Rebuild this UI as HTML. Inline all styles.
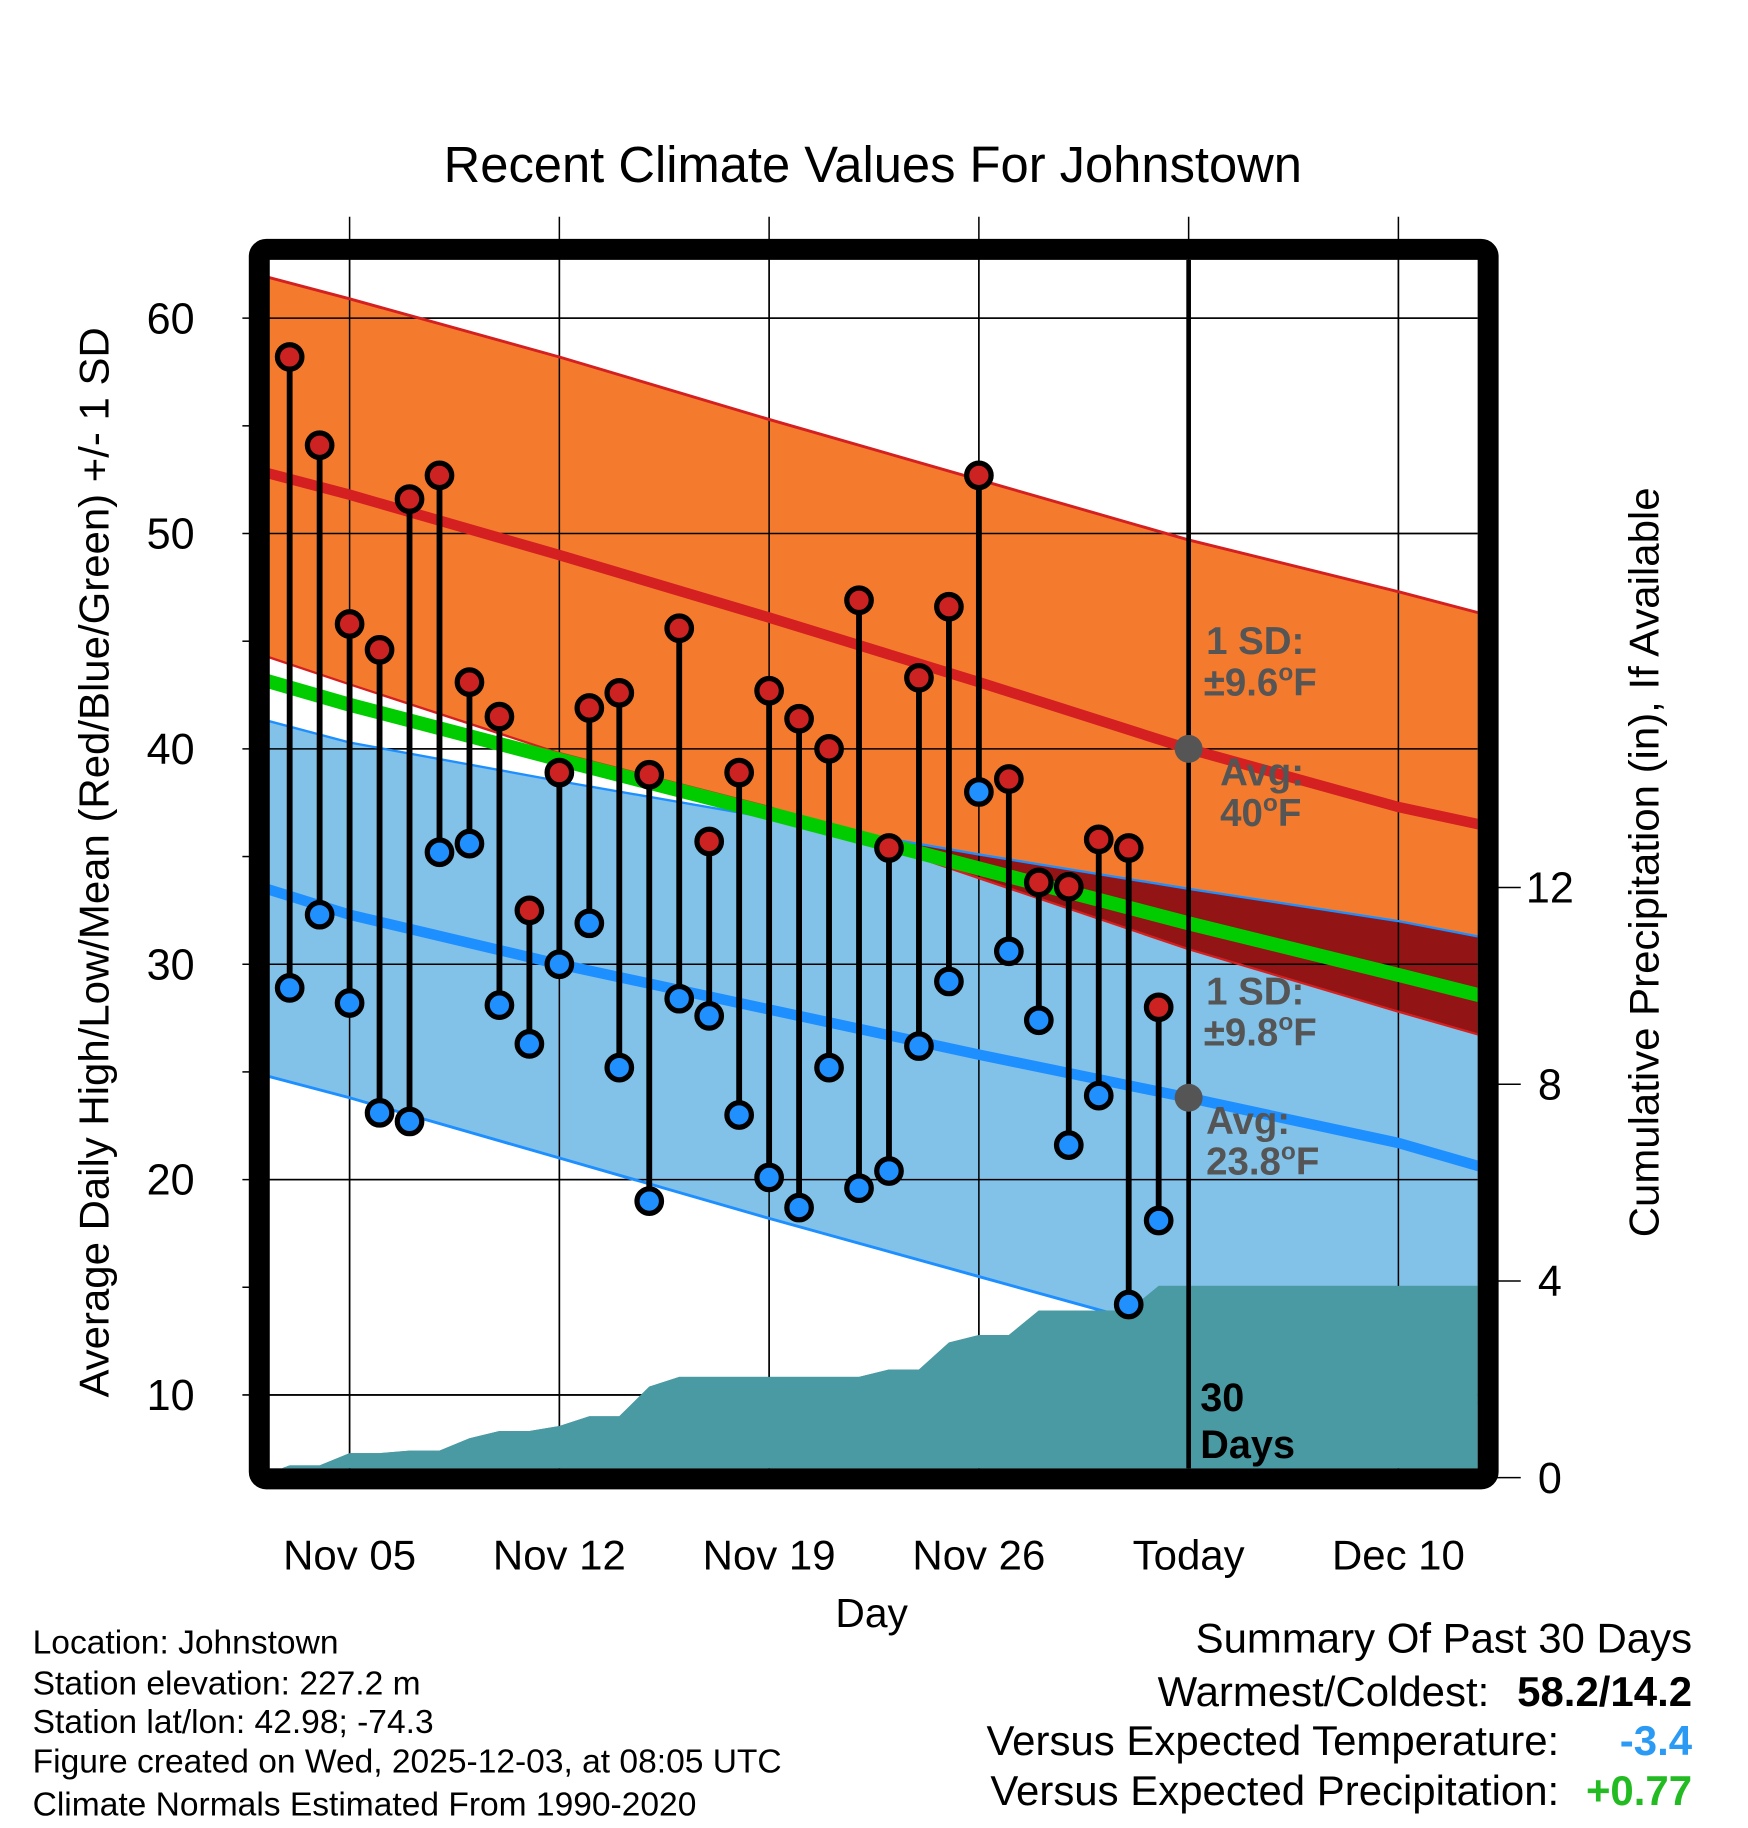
<!DOCTYPE html>
<html><head><meta charset="utf-8"><style>
html,body{margin:0;padding:0;background:#fff}
svg{display:block;font-family:"Liberation Sans",Arial,sans-serif}
</style></head><body>
<svg id="chart" width="1748" height="1828" viewBox="0 0 1500 1568.6" xmlns="http://www.w3.org/2000/svg">
<defs>
<clipPath id="plotClip"><rect x="231" y="223" width="1037" height="1037"/></clipPath>
<clipPath id="blueClip"><path id="blueClipPath" d=""/></clipPath>
</defs>
<rect width="1500" height="1568.6" fill="#fff"/>
<text x="749" y="156" font-size="43.5" text-anchor="middle">Recent Climate Values For Johnstown</text>
<g id="grid"></g>
<g id="plot" clip-path="url(#plotClip)"></g>
<g id="overlay"></g>
<rect x="222.5" y="214" width="1054.5" height="1055" rx="6" fill="none" stroke="#000" stroke-width="18"/>
<g id="axes"></g>
<text x="748" y="1396" font-size="35" text-anchor="middle">Day</text>
<text transform="translate(93,740) rotate(-90)" font-size="36" text-anchor="middle">Average Daily High/Low/Mean (Red/Blue/Green) +/- 1 SD</text>
<text transform="translate(1423,740) rotate(-90)" font-size="36" text-anchor="middle">Cumulative Precipitation (in), If Available</text>
<g font-size="28.8">
<text x="28" y="1419">Location: Johnstown</text>
<text x="28" y="1454">Station elevation: 227.2 m</text>
<text x="28" y="1487">Station lat/lon: 42.98; -74.3</text>
<text x="28" y="1521">Figure created on Wed, 2025-12-03, at 08:05 UTC</text>
<text x="28" y="1558">Climate Normals Estimated From 1990-2020</text>
</g>
<g font-size="36">
<text x="1452" y="1418" text-anchor="end">Summary Of Past 30 Days</text>
<text x="1278" y="1464" text-anchor="end">Warmest/Coldest:</text>
<text x="1452" y="1464" text-anchor="end" font-weight="bold">58.2/14.2</text>
<text x="1338" y="1506" text-anchor="end">Versus Expected Temperature:</text>
<text x="1452" y="1506" text-anchor="end" font-weight="bold" fill="#2a9af5">-3.4</text>
<text x="1338" y="1549" text-anchor="end">Versus Expected Precipitation:</text>
<text x="1452" y="1549" text-anchor="end" font-weight="bold" fill="#22bb22">+0.77</text>
</g>
</svg>
<script>
// ---- data ----
const highs = [58.2,54.1,45.8,44.6,51.6,52.7,43.1,41.5,32.5,38.9,41.9,42.6,38.8,45.6,35.7,38.9,42.7,41.4,40.0,46.9,35.4,43.3,46.6,52.7,38.6,33.8,33.6,35.8,35.4,28.0];
const lows = [28.9,32.3,28.2,23.1,22.7,35.2,35.6,28.1,26.3,30.0,31.9,25.2,19.0,28.4,27.6,23.0,20.1,18.7,25.2,19.6,20.4,26.2,29.2,38.0,30.6,27.4,21.6,23.9,14.2,18.1];
const precipCum = [0.25,0.25,0.5,0.5,0.55,0.55,0.8,0.95,0.95,1.05,1.25,1.25,1.85,2.05,2.05,2.05,2.05,2.05,2.05,2.05,2.2,2.2,2.75,2.9,2.9,3.4,3.4,3.4,3.4,3.9];
// normals at anchor days (days after Nov 5)
const normDays = [-3,0,7,14,21,28,35,38];
const hiUp  = [62.0,60.9,58.2,55.3,52.5,49.7,47.3,46.2];
const hiAvg = [52.9,51.8,49.0,46.1,43.1,40.0,37.3,36.4];
const hiLo  = [44.4,43.0,39.8,37.3,34.0,30.7,27.8,26.6];
const loUp  = [41.4,40.3,38.5,36.8,35.1,33.5,32.0,31.2];
const loAvg = [33.6,32.3,30.0,27.9,25.8,23.8,21.7,20.5];
const loLo  = [24.9,23.8,21.0,18.2,15.5,12.8,10.5,9.5];
const xTickDays = [0,7,14,21,28,35];
const xTickLabels = ["Nov 05","Nov 12","Nov 19","Nov 26","Today","Dec 10"];
const yTicks = [10,20,30,40,50,60];
const y2Ticks = [0,4,8,12];
const firstDay = -2; // Nov 3

// ---- scales ----
const X = d => 300 + d*180/7;
const Y = v => 1197 - (v-10)*18.48;
const Y2 = p => 1268 - p*42.2;
const NS = "http://www.w3.org/2000/svg";
function mk(tag, attrs, parent){const e=document.createElementNS(NS,tag);for(const k in attrs)e.setAttribute(k,attrs[k]);parent.appendChild(e);return e;}
const plot=document.getElementById('plot'), grid=document.getElementById('grid'), axes=document.getElementById('axes'), overlay=document.getElementById('overlay');
const pts = arr => normDays.map((d,i)=>[X(d),Y(arr[i])]);
const ln = p => p.map(q=>q[0].toFixed(1)+','+q[1].toFixed(1)).join(' ');
const band = (a,b) => 'M'+ln(pts(a)).replace(/ /g,' L')+' L'+ln(pts(b).reverse()).replace(/ /g,' L')+' Z';

let e;
e=mk('path',{d:band(hiUp,hiLo),fill:'#f47b2e'},plot);


e=mk('path',{d:band(loUp,loLo),fill:'#82c1e8'},plot);


document.getElementById('blueClipPath').setAttribute('d',band(loUp,loLo));
const ovG=mk('g',{'clip-path':'url(#blueClip)'},plot);
e=mk('path',{d:band(hiUp,hiLo),fill:'#921414'},ovG);



let pd='M231,1260 L231,'+Y2(0.1).toFixed(1);
precipCum.forEach((p,i)=>{pd+=' L'+X(firstDay+i).toFixed(1)+','+Y2(p).toFixed(1);});
pd+=' L1268,'+Y2(precipCum[precipCum.length-1]).toFixed(1)+' L1268,1260 Z';
e=mk('path',{d:pd,fill:'#4a9aa3'},plot);



xTickDays.forEach((d,i)=>{
  e=mk('line',{x1:X(d),x2:X(d),y1:186,y2:1260,stroke:'#000','stroke-width':1.3},grid);
  
  
});
yTicks.forEach(v=>{
  e=mk('line',{x1:208,x2:1268,y1:Y(v),y2:Y(v),stroke:'#000','stroke-width':1.3},grid);
  
  
});
const gIn=mk('g',{},plot);
xTickDays.forEach(d=>{mk('line',{x1:X(d),x2:X(d),y1:223,y2:1260,stroke:'#000','stroke-width':1.3},gIn);});
yTicks.forEach(v=>{mk('line',{x1:231,x2:1268,y1:Y(v),y2:Y(v),stroke:'#000','stroke-width':1.3},gIn);});

const line=(arr,color,w,name)=>{const l=mk('polyline',{points:ln(pts(arr)),fill:'none',stroke:color,'stroke-width':w},plot);
  
  };
line(hiUp,'#d42020',2.5,'high-upper-sd-line');
line(hiLo,'#d42020',2,'high-lower-sd-line');
line(loUp,'#1e8fff',2,'low-upper-sd-line');
line(loLo,'#1e8fff',2.5,'low-lower-sd-line');
line(hiAvg,'#d42020',9,'high-average-line');
line(loAvg,'#1e8fff',9,'low-average-line');
const meanArr=hiAvg.map((h,i)=>(h+loAvg[i])/2);
line(meanArr,'#00cc00',12,'mean-average-line');

e=mk('path',{d:pd,fill:'#4a9aa3'},plot);



e=mk('line',{x1:X(28),x2:X(28),y1:223,y2:1260,stroke:'#000','stroke-width':4},plot);



const tx=(x,y,t,name,fill,sz)=>{const s=mk('text',{x:x,y:y,'font-size':sz||33,'font-weight':'bold',fill:fill||'#555'},plot);s.innerHTML=t;
  
  };
tx(1035,561,'1 SD:','high-sd-label');
tx(1033,597,'±9.6<tspan font-size="21" dy="-13">o</tspan><tspan dy="13">F</tspan>','high-sd-value');
tx(1047,674,'Avg:','high-avg-label');
tx(1047,709,'40<tspan font-size="21" dy="-13">o</tspan><tspan dy="13">F</tspan>','high-avg-value');
tx(1035,862,'1 SD:','low-sd-label');
tx(1033,897,'±9.8<tspan font-size="21" dy="-13">o</tspan><tspan dy="13">F</tspan>','low-sd-value');
tx(1035,973,'Avg:','low-avg-label');
tx(1035,1008,'23.8<tspan font-size="21" dy="-13">o</tspan><tspan dy="13">F</tspan>','low-avg-value');
tx(1030,1211,'30','days-label-1','#000',34);
tx(1030,1251,'Days','days-label-2','#000',34);
e=mk('circle',{cx:X(28),cy:Y(hiAvg[5]),r:12,fill:'#555'},plot);


e=mk('circle',{cx:X(28),cy:Y(loAvg[5]),r:12,fill:'#555'},plot);



highs.forEach((h,i)=>{
  const x=X(firstDay+i);
  const s=mk('line',{x1:x,x2:x,y1:Y(h),y2:Y(lows[i]),stroke:'#000','stroke-width':5},overlay);
  
  
});
highs.forEach((h,i)=>{
  const x=X(firstDay+i);
  const c1=mk('circle',{cx:x,cy:Y(h),r:10.5,fill:'#cc2222',stroke:'#000','stroke-width':4.5},overlay);
  
  
  const c2=mk('circle',{cx:x,cy:Y(lows[i]),r:10.5,fill:'#2090ff',stroke:'#000','stroke-width':4.5},overlay);
  
  
});

xTickDays.forEach((d,i)=>{
  const t=mk('text',{x:X(d),y:1347,'font-size':36,'text-anchor':'middle'},axes);t.textContent=xTickLabels[i];
  
  
});
yTicks.forEach(v=>{
  const t=mk('text',{x:167,y:Y(v)+13,'font-size':37,'text-anchor':'end'},axes);t.textContent=v;
  
  
});
for(let v=15;v<=60;v+=10){mk('line',{x1:208,x2:218,y1:Y(v),y2:Y(v),stroke:'#000','stroke-width':1.3},axes);}
y2Ticks.forEach(p=>{
  mk('line',{x1:1282,x2:1305,y1:Y2(p),y2:Y2(p),stroke:'#000','stroke-width':1.3},axes);
  const t=mk('text',{x:1330,y:Y2(p)+13,'font-size':37,'text-anchor':'middle'},axes);t.textContent=p;
  
  
});
</script>
</body></html>
